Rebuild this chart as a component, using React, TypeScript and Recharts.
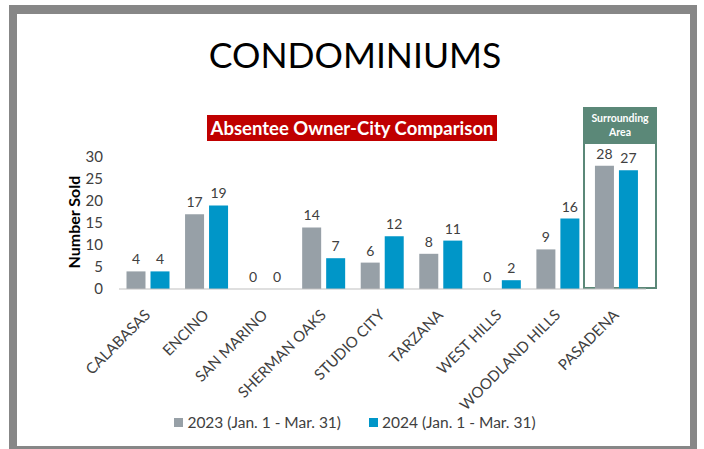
import React from 'react';
import { BarChart, Bar, XAxis, YAxis, LabelList } from 'recharts';

// 도시별 부재 소유자 콘도 판매 비교
const cities = [
  'CALABASAS',
  'ENCINO',
  'SAN MARINO',
  'SHERMAN OAKS',
  'STUDIO CITY',
  'TARZANA',
  'WEST HILLS',
  'WOODLAND HILLS',
  'PASADENA',
];
const sold2023 = [4, 17, 0, 14, 6, 8, 0, 9, 28];
const sold2024 = [4, 19, 0, 7, 12, 11, 2, 16, 27];
const yTicks = [0, 5, 10, 15, 20, 25, 30];
const seriesNames = ['2023 (Jan. 1 - Mar. 31)', '2024 (Jan. 1 - Mar. 31)'];

const GRAY = '#97A0A7';
const BLUE = '#0096C8';
const GREEN = '#5B8878';
const TEXT = '#404040';
const FONT = 'Lato, "Open Sans", sans-serif';

const data = cities.map((city, i) => ({
  city,
  y2023: sold2023[i],
  y2024: sold2024[i],
}));

const CityTick = ({ x, y, payload }: any) => (
  <g transform={`translate(${x + 3},${y})`}>
    <text
      x={0}
      y={0}
      dy={19}
      textAnchor="end"
      transform="rotate(-45 0 19)"
      fill={TEXT}
      fontSize={15}
      fontFamily={FONT}
    >
      {payload.value}
    </text>
  </g>
);

export default function App() {
  return (
    <div
      style={{
        position: 'absolute',
        left: 0,
        top: 0,
        width: 704,
        height: 449,
        background: '#fff',
        overflow: 'hidden',
        fontFamily: FONT,
      }}
    >
      {/* 회색 테두리 */}
      <div
        style={{
          position: 'absolute',
          left: 9,
          top: 5,
          width: 688,
          height: 449,
          background: '#878787',
        }}
      />
      <div
        style={{
          position: 'absolute',
          left: 17,
          top: 14,
          width: 673,
          height: 432,
          background: '#fff',
        }}
      />

      {/* 제목 */}
      <div
        style={{
          position: 'absolute',
          left: 0,
          width: 710,
          top: 33,
          textAlign: 'center',
          fontSize: 35.5,
          color: '#000',
          lineHeight: '44px',
        }}
      >
        CONDOMINIUMS
      </div>

      {/* 빨간 부제목 */}
      <div
        style={{
          position: 'absolute',
          left: 207,
          top: 115,
          width: 290,
          height: 26,
          background: '#C00000',
          color: '#fff',
          fontWeight: 700,
          fontSize: 18.5,
          lineHeight: '26px',
          textAlign: 'center',
          whiteSpace: 'nowrap',
        }}
      >
        Absentee Owner-City Comparison
      </div>

      {/* Surrounding Area 박스 */}
      <div
        style={{
          position: 'absolute',
          left: 583,
          top: 107,
          width: 74,
          height: 36,
          background: GREEN,
          color: '#fff',
          fontWeight: 700,
          fontSize: 10.5,
          lineHeight: '14px',
          textAlign: 'center',
          display: 'flex',
          flexDirection: 'column',
          justifyContent: 'center',
        }}
      >
        <div>Surrounding</div>
        <div>Area</div>
      </div>
      <div
        style={{
          position: 'absolute',
          left: 583,
          top: 142,
          width: 70,
          height: 143,
          border: `2px solid ${GREEN}`,
        }}
      />

      {/* Y축 제목 */}
      <div
        style={{
          position: 'absolute',
          left: 73,
          top: 222,
          transform: 'translate(-50%, -50%) rotate(-90deg)',
          whiteSpace: 'nowrap',
          fontWeight: 700,
          fontSize: 16,
          color: '#000',
        }}
      >
        Number Sold
      </div>

      <div style={{ position: 'absolute', left: 0, top: 0 }}>
        <BarChart
          width={704}
          height={449}
          data={data}
          margin={{ top: 157, right: 58, bottom: 60, left: 0 }}
          barGap={5}
          barCategoryGap={7.5}
        >
          <XAxis
            dataKey="city"
            interval={0}
            height={100}
            tickLine={false}
            axisLine={{ stroke: '#BFBFBF' }}
            tick={<CityTick />}
          />
          <YAxis
            width={119}
            domain={[0, 30]}
            ticks={yTicks}
            axisLine={false}
            tickLine={false}
            tickSize={6}
            tickMargin={10}
            tick={{ fill: TEXT, fontSize: 15, fontFamily: FONT }}
          />
          <Bar
            dataKey="y2023"
            name={seriesNames[0]}
            fill={GRAY}
            minPointSize={0.01}
            isAnimationActive={false}
          >
            <LabelList
              dataKey="y2023"
              position="top"
              offset={7}
              fill={TEXT}
              fontSize={14}
              fontFamily={FONT}
            />
          </Bar>
          <Bar
            dataKey="y2024"
            name={seriesNames[1]}
            fill={BLUE}
            minPointSize={0.01}
            isAnimationActive={false}
          >
            <LabelList
              dataKey="y2024"
              position="top"
              offset={7}
              fill={TEXT}
              fontSize={14}
              fontFamily={FONT}
            />
          </Bar>
        </BarChart>
      </div>

      {/* 범례 */}
      <div
        style={{
          position: 'absolute',
          left: 0,
          width: 710,
          top: 413,
          display: 'flex',
          justifyContent: 'center',
          gap: 28,
          fontSize: 15.5,
          color: TEXT,
          lineHeight: '18px',
        }}
      >
        {[GRAY, BLUE].map((c, i) => (
          <div key={i} style={{ display: 'flex', alignItems: 'center', gap: 4 }}>
            <span style={{ width: 9, height: 9, background: c, display: 'inline-block' }} />
            <span>{seriesNames[i]}</span>
          </div>
        ))}
      </div>
    </div>
  );
}
